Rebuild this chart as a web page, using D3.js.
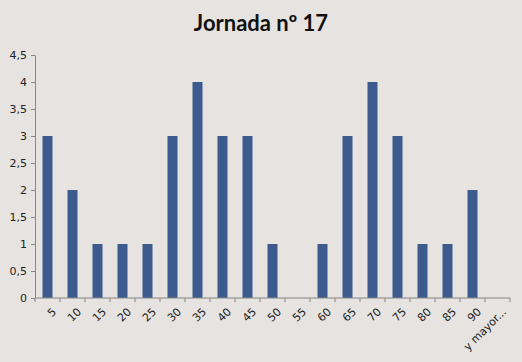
<!DOCTYPE html>
<html>
<head>
<meta charset="utf-8">
<script src="https://cdn.jsdelivr.net/npm/d3@7"></script>
<style>
  body { margin: 0; background: #e6e3e0; }
  svg { display: block; }
</style>
</head>
<body>
<svg id="chart" width="522" height="362"></svg>
<script>
// categories and counts for the histogram
var categories = ['5', '10', '15', '20', '25', '30', '35', '40', '45', '50',
                  '55', '60', '65', '70', '75', '80', '85', '90', 'y mayor...'];
var counts = [3, 2, 1, 1, 1, 3, 4, 3, 3, 1, 0, 1, 3, 4, 3, 1, 1, 2, 0];
var yTicks = [0, 0.5, 1, 1.5, 2, 2.5, 3, 3.5, 4, 4.5];
var title = 'Jornada nº 17';

var svg = d3.select('#chart');
var W = 522, H = 362;
var margin = { left: 35, right: 12, top: 55, bottom: 64 };

svg.append('rect').attr('width', W).attr('height', H).attr('fill', '#e6e3e0');

var x = d3.scaleBand()
    .domain(categories)
    .range([margin.left, W - margin.right])
    .paddingInner(0.6)
    .paddingOuter(0.3);

var y = d3.scaleLinear()
    .domain([0, 4.5])
    .range([H - margin.bottom, margin.top]);

var fmt = function (d) { return String(d).replace('.', ','); };

// bars
svg.append('g').selectAll('rect')
    .data(counts)
    .join('rect')
    .attr('x', function (d, i) { return x(categories[i]); })
    .attr('y', function (d) { return y(d); })
    .attr('width', x.bandwidth())
    .attr('height', function (d) { return y(0) - y(d); })
    .attr('fill', '#3c5a8d');

// y axis
var yAxis = svg.append('g')
    .attr('transform', 'translate(' + margin.left + ',0)')
    .call(d3.axisLeft(y).tickValues(yTicks).tickFormat(fmt).tickSize(4).tickSizeOuter(0));

// x axis, ticks on band boundaries
var x0 = margin.left, x1 = W - margin.right;
var xAxis = svg.append('g').attr('transform', 'translate(0,' + y(0) + ')');
xAxis.append('line').attr('x1', x0).attr('x2', x1).attr('stroke', '#868686');
xAxis.selectAll('line.tk')
    .data(d3.range(categories.length + 1))
    .join('line')
    .attr('class', 'tk')
    .attr('x1', function (i) { return x0 + i * (x1 - x0) / categories.length; })
    .attr('x2', function (i) { return x0 + i * (x1 - x0) / categories.length; })
    .attr('y1', 0).attr('y2', 4)
    .attr('stroke', '#868686');
xAxis.selectAll('text')
    .data(categories)
    .join('text')
    .attr('transform', function (d) {
        return 'translate(' + (x(d) + x.bandwidth() / 2 + 4) + ',9) rotate(-45)';
    })
    .attr('text-anchor', 'end')
    .attr('dy', '0.7em')
    .attr('font-family', 'DejaVu Sans, sans-serif')
    .attr('font-size', 11)
    .attr('fill', '#222')
    .text(function (d) { return d; });

yAxis.select('.domain').attr('stroke', '#868686');
yAxis.selectAll('.tick line').attr('stroke', '#868686');
yAxis.selectAll('.tick text')
    .attr('font-family', 'DejaVu Sans, sans-serif')
    .attr('font-size', 11)
    .attr('fill', '#222')
    .attr('x', -8);

// title
svg.append('text')
    .attr('x', 261).attr('y', 31)
    .attr('text-anchor', 'middle')
    .attr('font-family', 'Lato, sans-serif')
    .attr('font-weight', 'bold')
    .attr('font-size', 22)
    .attr('fill', '#111')
    .text(title);
</script>
</body>
</html>
